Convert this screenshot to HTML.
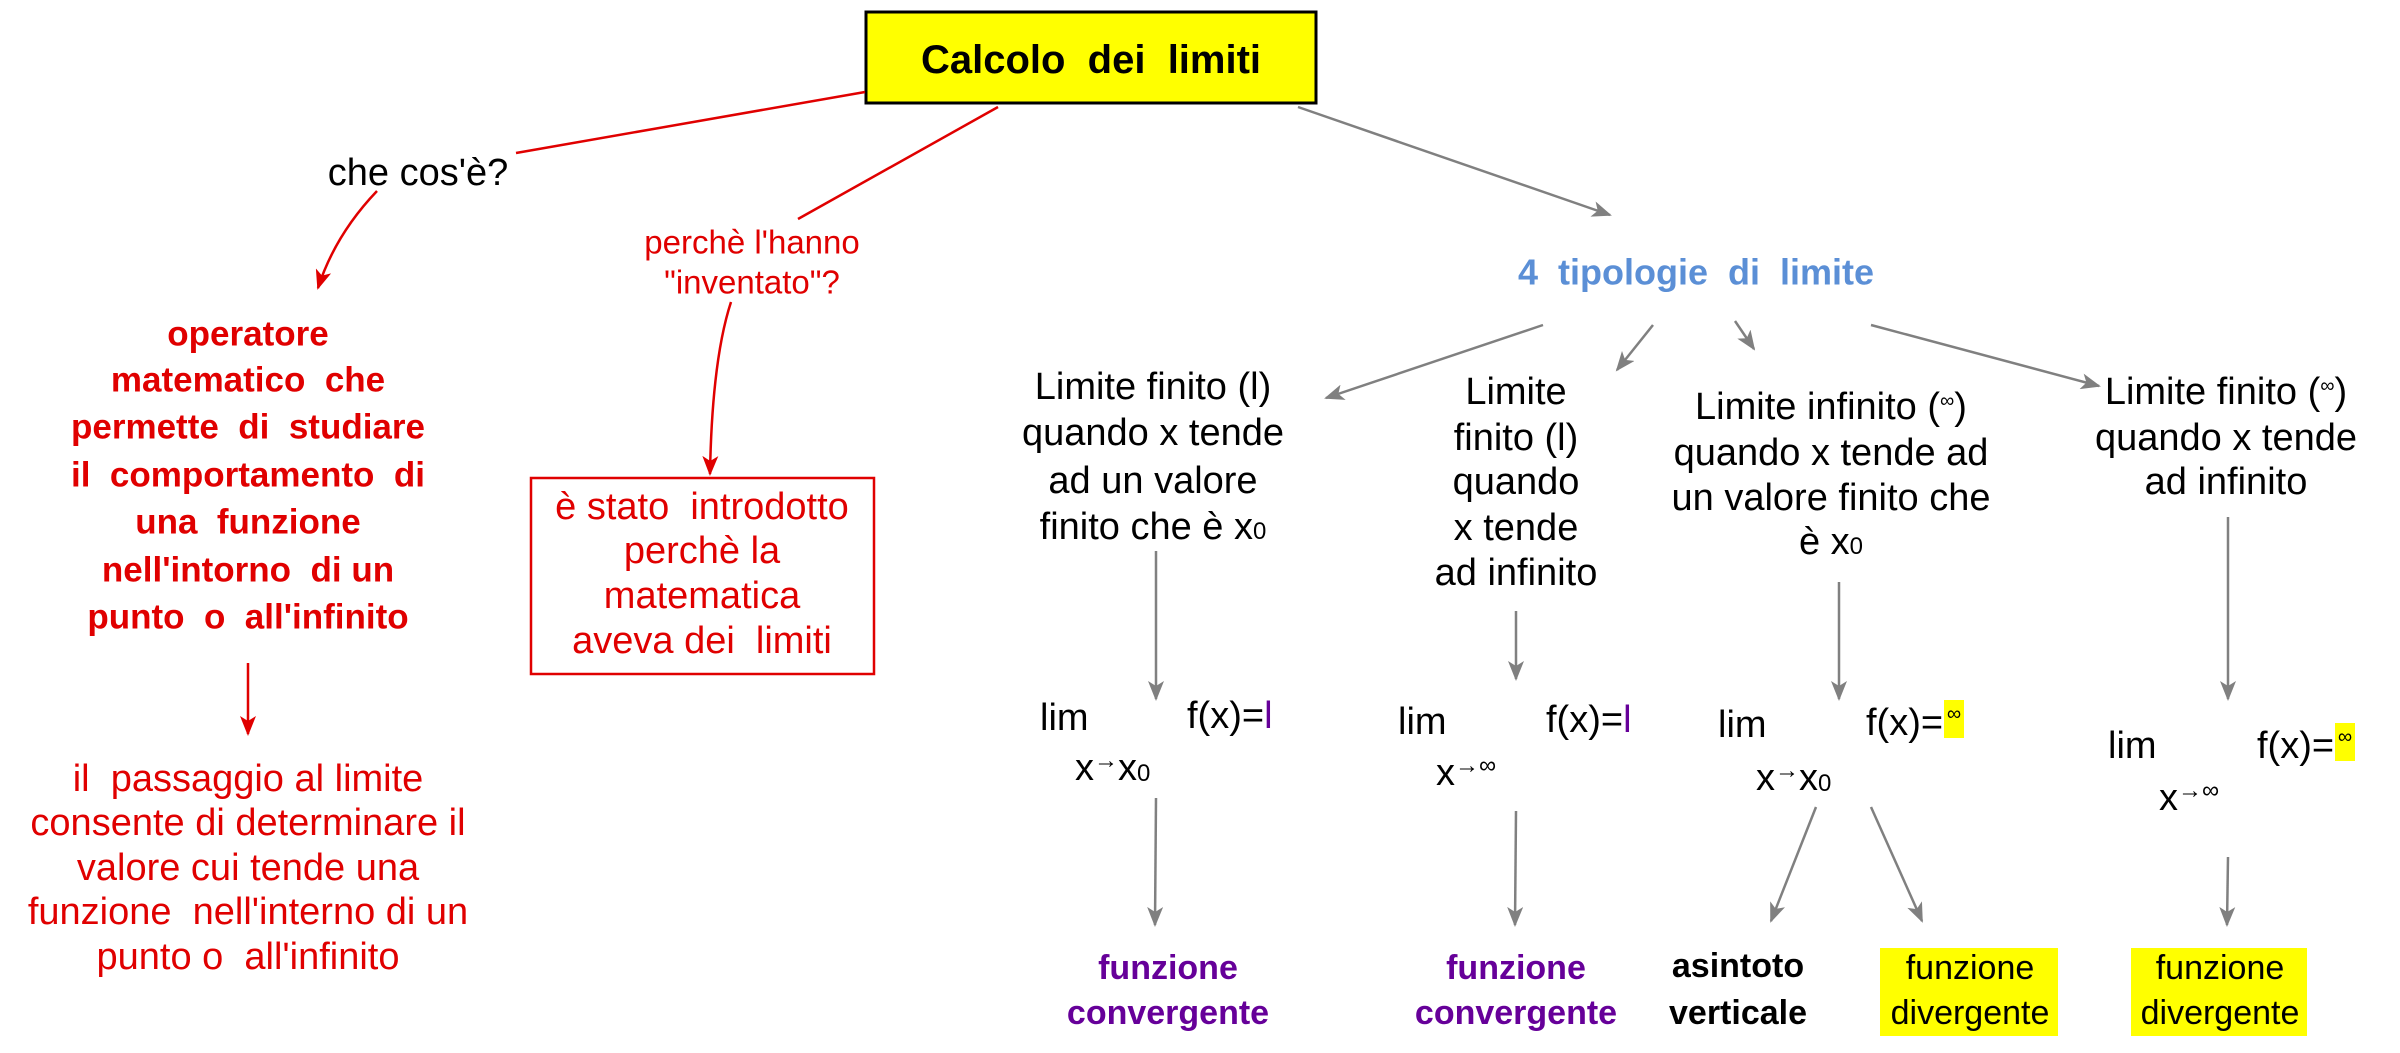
<!DOCTYPE html>
<html><head><meta charset="utf-8"><style>
html,body{margin:0;padding:0;background:#fff;}
svg{display:block;font-family:"Liberation Sans",Arial,sans-serif;}
</style></head><body>
<svg width="2400" height="1053" viewBox="0 0 2400 1053" xmlns="http://www.w3.org/2000/svg">
<defs>
<marker id="ag" markerWidth="20" markerHeight="16" refX="18" refY="8" orient="auto" markerUnits="userSpaceOnUse"><path d="M0,0 L20,8 L0,16 L5,8 z" fill="#808080"/></marker>
<marker id="ar2" markerWidth="20" markerHeight="16" refX="18" refY="8" orient="auto" markerUnits="userSpaceOnUse"><path d="M0,0 L20,8 L0,16 L5,8 z" fill="#e00000"/></marker>
</defs>
<!-- title -->
<rect x="866" y="12" width="450" height="91" fill="#ffff00" stroke="#000" stroke-width="3"/>
<text x="1091" y="60" font-size="40" font-weight="bold" text-anchor="middle" dominant-baseline="central">Calcolo&#160; dei&#160; limiti</text>

<!-- red connectors -->
<line x1="865" y1="92" x2="516" y2="153" stroke="#e00000" stroke-width="2.5"/>
<path d="M377,191 Q335,235 318,288" fill="none" stroke="#e00000" stroke-width="2.5" marker-end="url(#ar2)"/>
<line x1="998" y1="107" x2="798" y2="219" stroke="#e00000" stroke-width="2.5"/>
<path d="M731,302 Q712,360 710,474" fill="none" stroke="#e00000" stroke-width="2.5" marker-end="url(#ar2)"/>
<line x1="248" y1="663" x2="248" y2="734" stroke="#e00000" stroke-width="2.5" marker-end="url(#ar2)"/>

<text x="418" y="173" font-size="38" text-anchor="middle" dominant-baseline="central">che cos'è?</text>
<g font-size="33" fill="#e00000" text-anchor="middle" dominant-baseline="central">
<text x="752" y="242">perchè l'hanno</text>
<text x="752" y="282">"inventato"?</text>
</g>

<g font-size="35" font-weight="bold" fill="#e00000" text-anchor="middle" dominant-baseline="central">
<text x="248" y="334">operatore</text>
<text x="248" y="380">matematico&#160; che</text>
<text x="248" y="427">permette&#160; di&#160; studiare</text>
<text x="248" y="475">il&#160; comportamento&#160; di</text>
<text x="248" y="522">una&#160; funzione</text>
<text x="248" y="570">nell'intorno&#160; di un</text>
<text x="248" y="617">punto&#160; o&#160; all'infinito</text>
</g>
<g font-size="38" fill="#e00000" text-anchor="middle" dominant-baseline="central">
<text x="248" y="779">il&#160; passaggio al limite</text>
<text x="248" y="823">consente di determinare il</text>
<text x="248" y="868">valore cui tende una</text>
<text x="248" y="912">funzione&#160; nell'interno di un</text>
<text x="248" y="957">punto o&#160; all'infinito</text>
</g>

<rect x="531" y="478" width="343" height="196" fill="none" stroke="#e00000" stroke-width="2.5"/>
<g font-size="38" fill="#e00000" text-anchor="middle" dominant-baseline="central">
<text x="702" y="507">è stato&#160; introdotto</text>
<text x="702" y="551">perchè la</text>
<text x="702" y="596">matematica</text>
<text x="702" y="641">aveva dei&#160; limiti</text>
</g>

<!-- gray connectors -->
<g stroke="#808080" stroke-width="2.5" marker-end="url(#ag)">
<line x1="1298" y1="107" x2="1610" y2="215"/>
<line x1="1543" y1="325" x2="1326" y2="398"/>
<line x1="1653" y1="325" x2="1617" y2="370"/>
<line x1="1735" y1="321" x2="1754" y2="349"/>
<line x1="1871" y1="325" x2="2099" y2="386"/>
<line x1="1156" y1="551" x2="1156" y2="699"/>
<line x1="1516" y1="611" x2="1516" y2="679"/>
<line x1="1839" y1="582" x2="1839" y2="699"/>
<line x1="2228" y1="517" x2="2228" y2="699"/>
<line x1="1156" y1="798" x2="1155" y2="925"/>
<line x1="1516" y1="811" x2="1515" y2="925"/>
<line x1="1816" y1="807" x2="1771" y2="921"/>
<line x1="1871" y1="807" x2="1922" y2="921"/>
<line x1="2228" y1="857" x2="2227" y2="925"/>
</g>

<text x="1696" y="272" font-size="36" font-weight="bold" fill="#5b8fd6" text-anchor="middle" dominant-baseline="central">4&#160; tipologie&#160; di&#160; limite</text>

<g font-size="38" text-anchor="middle" dominant-baseline="central">
<text x="1153" y="387">Limite finito (l)</text>
<text x="1153" y="433">quando x tende</text>
<text x="1153" y="481">ad un valore</text>
<text x="1153" y="527">finito che è x<tspan font-size="24" dy="4">0</tspan></text>

<text x="1516" y="392">Limite</text>
<text x="1516" y="438">finito (l)</text>
<text x="1516" y="482">quando</text>
<text x="1516" y="528">x tende</text>
<text x="1516" y="573">ad infinito</text>

<text x="1831" y="407">Limite infinito (<tspan font-size="20" dy="-6">∞</tspan><tspan dy="6">)</tspan></text>
<text x="1831" y="453">quando x tende ad</text>
<text x="1831" y="498">un valore finito che</text>
<text x="1831" y="542">è x<tspan font-size="24" dy="4">0</tspan></text>

<text x="2226" y="392">Limite finito (<tspan font-size="20" dy="-6">∞</tspan><tspan dy="6">)</tspan></text>
<text x="2226" y="438">quando x tende</text>
<text x="2226" y="482">ad infinito</text>
</g>

<!-- lim rows -->
<rect x="1944" y="700" width="20" height="38" fill="#ffff00"/>
<rect x="2335" y="723" width="20" height="38" fill="#ffff00"/>
<g font-size="38" dominant-baseline="central">
<text x="1040" y="718">lim</text>
<text x="1187" y="716">f(x)=<tspan fill="#660099">l</tspan></text>
<text x="1075" y="768">x<tspan font-size="24" dy="-8">→</tspan><tspan dy="8">x</tspan><tspan font-size="24" dy="5">0</tspan></text>

<text x="1398" y="722">lim</text>
<text x="1546" y="720">f(x)=<tspan fill="#660099">l</tspan></text>
<text x="1436" y="773">x<tspan font-size="24" dy="-8">→∞</tspan></text>

<text x="1718" y="725">lim</text>
<text x="1866" y="723">f(x)=</text>
<text x="1954" y="714" font-size="20" text-anchor="middle">∞</text>
<text x="1756" y="778">x<tspan font-size="24" dy="-8">→</tspan><tspan dy="8">x</tspan><tspan font-size="24" dy="5">0</tspan></text>

<text x="2108" y="746">lim</text>
<text x="2257" y="746">f(x)=</text>
<text x="2345" y="737" font-size="20" text-anchor="middle">∞</text>
<text x="2159" y="798">x<tspan font-size="24" dy="-8">→∞</tspan></text>
</g>

<!-- bottom labels -->
<rect x="1880" y="948" width="178" height="88" fill="#ffff00"/>
<rect x="2131" y="948" width="176" height="88" fill="#ffff00"/>
<g font-size="34" text-anchor="middle" dominant-baseline="central">
<text x="1168" y="968" font-weight="bold" fill="#660099">funzione</text>
<text x="1168" y="1013" font-weight="bold" fill="#660099">convergente</text>
<text x="1516" y="968" font-weight="bold" fill="#660099">funzione</text>
<text x="1516" y="1013" font-weight="bold" fill="#660099">convergente</text>
<text x="1738" y="966" font-weight="bold">asintoto</text>
<text x="1738" y="1013" font-weight="bold">verticale</text>
<text x="1970" y="968">funzione</text>
<text x="1970" y="1013">divergente</text>
<text x="2220" y="968">funzione</text>
<text x="2220" y="1013">divergente</text>
</g>
</svg>
</body></html>
